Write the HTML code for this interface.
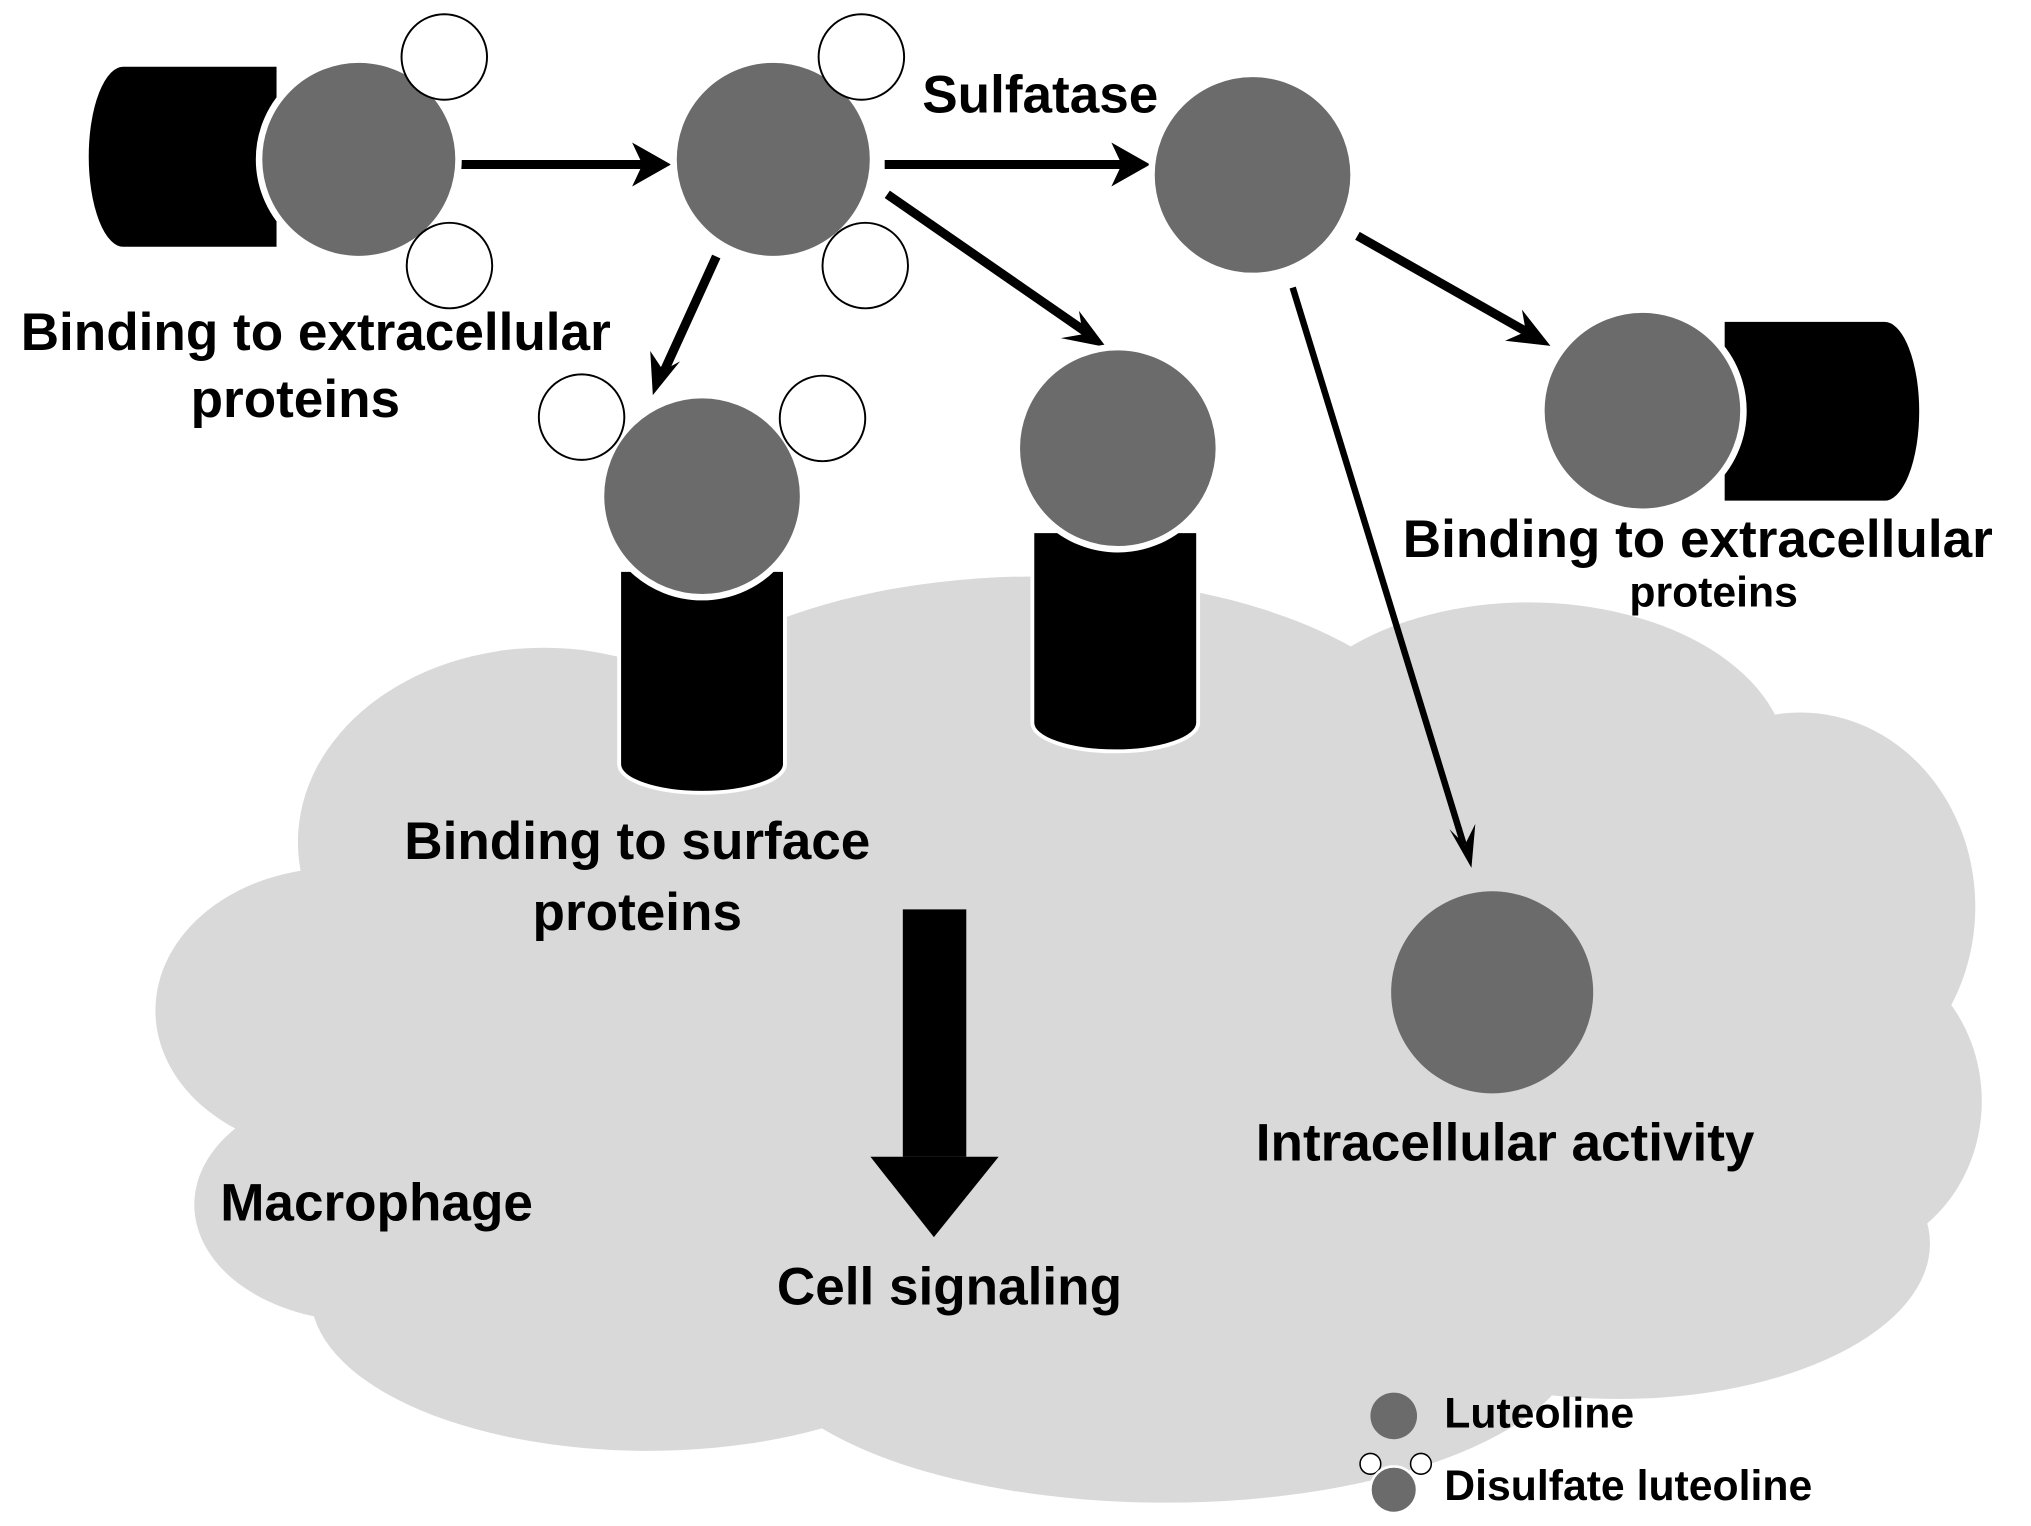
<!DOCTYPE html>
<html><head><meta charset="utf-8"><style>
html,body{margin:0;padding:0;background:#fff;}
svg{display:block;}
text{font-family:"Liberation Sans",sans-serif;font-weight:bold;fill:#000;}
</style></head><body>
<svg width="2031" height="1526" viewBox="0 0 1568 1178" preserveAspectRatio="none" xmlns="http://www.w3.org/2000/svg">
<rect width="1600" height="1200" fill="#fff"/>
<g fill="#d9d9d9">
<ellipse cx="420" cy="650" rx="190" ry="150"/>
<ellipse cx="800" cy="600" rx="320" ry="155"/>
<ellipse cx="1180" cy="590" rx="200" ry="125"/>
<ellipse cx="1390" cy="700" rx="135" ry="150"/>
<ellipse cx="1420" cy="850" rx="110" ry="120"/>
<ellipse cx="260" cy="780" rx="140" ry="110"/>
<ellipse cx="280" cy="930" rx="130" ry="90"/>
<ellipse cx="500" cy="1000" rx="260" ry="120"/>
<ellipse cx="900" cy="1030" rx="320" ry="130"/>
<ellipse cx="1250" cy="960" rx="240" ry="120"/>
<ellipse cx="820" cy="800" rx="620" ry="260"/>
</g>
<g fill="#000" stroke="#fff" stroke-width="3">
<path d="M95 50 L215 50 L215 192 L95 192 A28 71 0 0 1 95 50 Z"/>
<path d="M1330 247 L1455 247 A28 70 0 0 1 1455 388 L1330 388 Z"/>
<path d="M478 440 L606 440 L606 590 A64 22 0 0 1 478 590 Z"/>
<path d="M797 410 L925 410 L925 558 A64 22 0 0 1 797 558 Z"/>
</g>
<g stroke="#000" stroke-width="7" fill="none">
<line x1="355" y1="127" x2="500" y2="127"/>
<line x1="683" y1="127" x2="870" y2="127"/>
<line x1="553" y1="198" x2="512" y2="288"/>
<line x1="685" y1="150" x2="838" y2="256"/>
<line x1="1048" y1="182" x2="1180" y2="257"/>
<line x1="998" y1="222" x2="1130" y2="652" stroke-width="5"/>
</g>
<g fill="#000">
<polygon points="518,127 488,110 496,127 488,144"/>
<polygon points="888,127 858,110 866,127 858,144"/>
<polygon points="504,305 502,271 512,286 525,279"/>
<polygon points="854,268 833,240 836,258 819,261"/>
<polygon points="1197,267 1175,239 1178,256 1162,263"/>
<polygon points="1136,670 1119,640 1131,652 1139,636"/>
<rect x="697" y="702" width="49" height="191"/>
<polygon points="672,893 771,893 721,955"/>
</g>
<g fill="#6b6b6b" stroke="#fff" stroke-width="5">
<circle cx="277" cy="123" r="77"/>
<circle cx="597" cy="123" r="77"/>
<circle cx="967" cy="135" r="78"/>
<circle cx="542" cy="383" r="78"/>
<circle cx="863" cy="346" r="78"/>
<circle cx="1268" cy="317" r="78"/>
</g>
<circle cx="1152" cy="766" r="78" fill="#6b6b6b"/>
<g fill="#fff" stroke="#000" stroke-width="1.5">
<circle cx="343" cy="44" r="33"/><circle cx="347" cy="205" r="33"/>
<circle cx="665" cy="44" r="33"/><circle cx="668" cy="205" r="33"/>
<circle cx="449" cy="322" r="33"/><circle cx="635" cy="323" r="33"/>
</g>
<circle cx="1076" cy="1093" r="18" fill="#6b6b6b"/>
<circle cx="1058" cy="1130" r="8" fill="#fff" stroke="#000" stroke-width="1.2"/>
<circle cx="1097" cy="1130" r="8" fill="#fff" stroke="#000" stroke-width="1.2"/>
<circle cx="1076" cy="1150" r="18" fill="#6b6b6b" stroke="#fff" stroke-width="2"/>
<text x="16" y="270" font-size="41">Binding to extracellular</text>
<text x="228" y="322" font-size="41" text-anchor="middle">proteins</text>
<text x="712" y="87" font-size="41">Sulfatase</text>
<text x="1083" y="430" font-size="41">Binding to extracellular</text>
<text x="1323" y="468" font-size="33" text-anchor="middle">proteins</text>
<text x="492" y="663" font-size="41" text-anchor="middle">Binding to surface</text>
<text x="492" y="718" font-size="41" text-anchor="middle">proteins</text>
<text x="1162" y="896" font-size="41" text-anchor="middle">Intracellular activity</text>
<text x="170" y="942" font-size="41">Macrophage</text>
<text x="733" y="1007" font-size="41" text-anchor="middle">Cell signaling</text>
<text x="1115" y="1102" font-size="33">Luteoline</text>
<text x="1115" y="1158" font-size="33">Disulfate luteoline</text>
</svg>
</body></html>
